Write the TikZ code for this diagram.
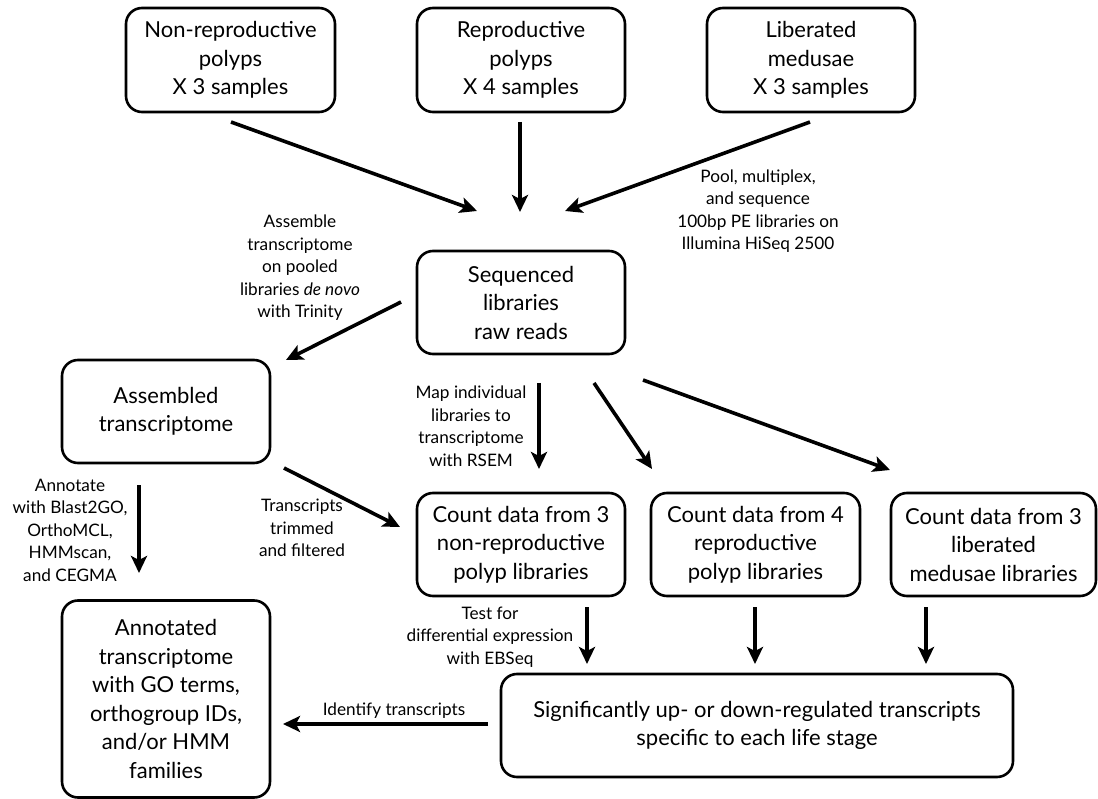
\documentclass[tikz,border=0pt]{standalone}
\usepackage{fontspec}
\setmainfont{Lato}
\usetikzlibrary{arrows.meta}
\tikzset{
  box/.style={draw, line width=2.6pt, rounded corners=16pt, align=center, inner sep=0pt,
    font=\fontsize{22}{28.5}\selectfont},
  lbl/.style={align=center, inner sep=0pt, font=\fontsize{17.2}{22.5}\selectfont},
  arr/.style={line width=3.6pt, -{Stealth[length=17pt,width=16pt,inset=4pt]}}
}
\begin{document}
\begin{tikzpicture}[x=1pt,y=-1pt]
\useasboundingbox (0,0) rectangle (1098,799);
% boxes
\node[box, minimum width=209pt, minimum height=104pt] (nrp) at (230.5,60) {Non-reproductive\\polyps\\X 3 samples};
\node[box, minimum width=208pt, minimum height=104pt] (rp) at (521,60) {Reproductive\\polyps\\X 4 samples};
\node[box, minimum width=208pt, minimum height=104pt] (lm) at (811,60) {Liberated\\medusae\\X 3 samples};
\node[box, minimum width=208pt, minimum height=103pt] (seq) at (521,302.5) {Sequenced\\libraries\\raw reads};
\node[box, minimum width=208pt, minimum height=103pt] (asm) at (166,411.5) {Assembled\\transcriptome};
\node[box, minimum width=208pt, minimum height=103pt] (c1) at (521,544.5) {Count data from 3\\non-reproductive\\polyp libraries};
\node[box, minimum width=209pt, minimum height=103pt] (c2) at (755.5,544.5) {Count data from 4\\reproductive\\polyp libraries};
\node[box, minimum width=205pt, minimum height=103pt] (c3) at (993.5,544.5) {Count data from 3\\liberated\\medusae libraries};
\node[box, minimum width=208pt, minimum height=197pt] (ann) at (166,699) {Annotated\\transcriptome\\with GO terms,\\orthogroup IDs,\\and/or HMM\\families};
\node[box, minimum width=512pt, minimum height=103pt] (sig) at (757,725.5) {Significantly up- or down-regulated transcripts\\specific to each life stage};
% connector end points
\coordinate (a1s) at (231,122); \coordinate (a1e) at (477,211);
\coordinate (a2s) at (520,122); \coordinate (a2e) at (520,212);
\coordinate (a3s) at (810,122); \coordinate (a3e) at (565,211);
\coordinate (a4s) at (401,302); \coordinate (a4e) at (286,360);
\coordinate (a5s) at (539,383); \coordinate (a5e) at (539,469);
\coordinate (a6s) at (594,383); \coordinate (a6e) at (652,469);
\coordinate (a7s) at (643,380); \coordinate (a7e) at (890,470);
\coordinate (a8s) at (284,468); \coordinate (a8e) at (400,527);
\coordinate (a9s) at (139,485); \coordinate (a9e) at (139,573);
\coordinate (b1s) at (587,607); \coordinate (b1e) at (587,664);
\coordinate (b2s) at (755,607); \coordinate (b2e) at (755,664);
\coordinate (b3s) at (926,607); \coordinate (b3e) at (926,664);
\coordinate (b4s) at (488,724); \coordinate (b4e) at (283,724);
% connectors
\draw[arr] (a1s) -- (a1e);
\draw[arr] (a2s) -- (a2e);
\draw[arr] (a3s) -- (a3e);
\draw[arr] (a4s) -- (a4e);
\draw[arr] (a5s) -- (a5e);
\draw[arr] (a6s) -- (a6e);
\draw[arr] (a7s) -- (a7e);
\draw[arr] (a8s) -- (a8e);
\draw[arr] (a9s) -- (a9e);
\draw[arr] (b1s) -- (b1e);
\draw[arr] (b2s) -- (b2e);
\draw[arr] (b3s) -- (b3e);
\draw[arr] (b4s) -- (b4e);
% labels
\node[lbl] (lpool) at (758,211) {Pool, multiplex,\\and sequence\\100bp PE libraries on\\Illumina HiSeq 2500};
\node[lbl] (lasm) at (300,268) {Assemble\\transcriptome\\on pooled\\libraries \textit{de novo}\\with Trinity};
\node[lbl] (lmap) at (471,426) {Map individual\\libraries to\\transcriptome\\with RSEM};
\node[lbl] (ltrim) at (302,528) {Transcripts\\trimmed\\and filtered};
\node[lbl] (lannot) at (70,530) {Annotate\\with Blast2GO,\\OrthoMCL,\\HMMscan,\\and CEGMA};
\node[lbl] (ltest) at (490,637) {Test for\\differential expression\\with EBSeq};
\node[lbl] (lid) at (394,711) {Identify transcripts};
\end{tikzpicture}
\end{document}
